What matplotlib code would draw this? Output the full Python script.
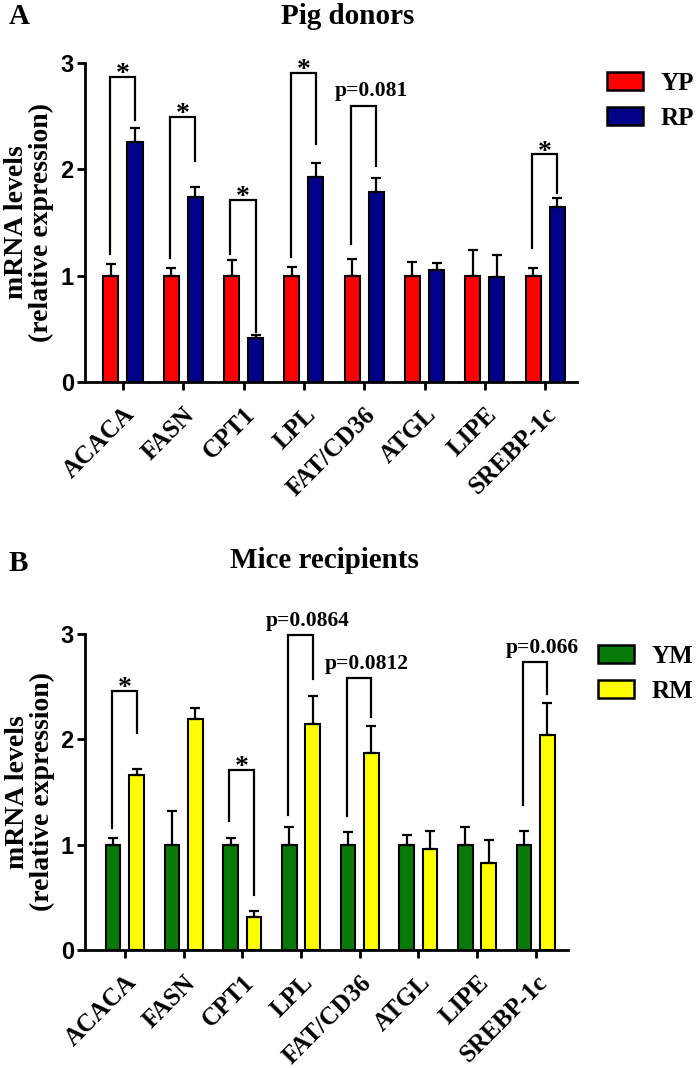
import matplotlib
matplotlib.use("Agg")
import matplotlib.pyplot as plt
from matplotlib.patches import Patch
import numpy as np

SERIF = "Liberation Serif"
SANS = "Liberation Sans"

genes = ["ACACA", "FASN", "CPT1", "LPL", "FAT/CD36", "ATGL", "LIPE", "SREBP-1c"]

# Panel A - pig donors
yp_mean = [1, 1, 1, 1, 1, 1, 1, 1]
yp_err = [0.11, 0.07, 0.15, 0.08, 0.16, 0.13, 0.24, 0.07]
rp_mean = [2.26, 1.74, 0.41, 1.93, 1.79, 1.05, 0.99, 1.65]
rp_err = [0.13, 0.09, 0.03, 0.13, 0.13, 0.07, 0.20, 0.08]
# brackets: gene index, top, left leg bottom, right leg bottom, label
br_a_idx = [0, 1, 2, 3, 4, 7]
br_a_top = [2.87, 2.49, 1.71, 2.91, 2.60, 2.14]
br_a_left = [1.20, 1.17, 1.20, 1.18, 1.30, 1.26]
br_a_right = [2.46, 2.08, 0.47, 2.24, 2.03, 1.78]
br_a_lab = ["*", "*", "*", "*", "p=0.081", "*"]

# Panel B - mice recipients
ym_mean = [1, 1, 1, 1, 1, 1, 1, 1]
ym_err = [0.06, 0.32, 0.06, 0.17, 0.12, 0.09, 0.17, 0.13]
rm_mean = [1.66, 2.19, 0.31, 2.15, 1.87, 0.96, 0.83, 2.04]
rm_err = [0.06, 0.11, 0.06, 0.26, 0.26, 0.17, 0.21, 0.30]
br_b_idx = [0, 2, 3, 4, 7]
br_b_top = [2.46, 1.71, 2.99, 2.58, 2.73]
br_b_left = [1.16, 1.22, 1.28, 1.27, 1.38]
br_b_right = [2.06, 0.52, 2.57, 2.21, 2.43]
br_b_lab = ["*", "*", "p=0.0864", "p=0.0812", "p=0.066"]

W, OFF = 0.25, 0.2

fig = plt.figure(figsize=(7.0, 10.68), dpi=100)


def panel(rect, xlim, m1, e1, m2, e2, c1, c2, names, bidx, btop, bl, br, blab):
    ax = fig.add_axes(rect)
    x = np.arange(len(genes))
    ekw = dict(lw=1.6, capsize=3.5, capthick=1.6, ecolor="black")
    ax.bar(x - OFF, m1, W, color=c1, edgecolor="black", lw=1.5, zorder=2,
           yerr=[np.zeros(len(e1)), e1], error_kw=ekw, label=names[0])
    ax.bar(x + OFF, m2, W, color=c2, edgecolor="black", lw=1.5, zorder=2,
           yerr=[np.zeros(len(e2)), e2], error_kw=ekw, label=names[1])
    for i, t, l, r, lab in zip(bidx, btop, bl, br, blab):
        xl, xr = i - OFF - 0.02, i + OFF
        ax.plot([xl, xl, xr, xr], [l, t, t, r], color="black", lw=1.6,
                solid_joinstyle="miter", clip_on=False, zorder=3)
        if lab == "*":
            ax.text((xl + xr) / 2, t - 0.04, lab, ha="center", va="baseline",
                    fontsize=20, fontweight="bold", family=SERIF)
        else:
            ax.text((xl + xr) / 2 + 0.13, t + 0.04, lab, ha="center",
                    va="bottom", fontsize=15.5, fontweight="bold", family=SERIF)
    ax.set_xlim(*xlim)
    ax.set_ylim(0, 3)
    ax.set_yticks([0, 1, 2, 3])
    ax.set_yticklabels(["0", "1", "2", "3"], family=SANS, fontweight="bold",
                       fontsize=17)
    ax.set_xticks(x)
    ax.set_xticklabels(genes, rotation=45, ha="right", va="top",
                       rotation_mode="anchor", family=SERIF,
                       fontweight="bold", fontsize=18)
    for s in ["top", "right"]:
        ax.spines[s].set_visible(False)
    for s in ["left", "bottom"]:
        ax.spines[s].set_linewidth(2)
    ax.tick_params(axis="both", direction="out", length=6, width=2, pad=2)
    ax.tick_params(axis="x", pad=9)
    ax.set_ylabel("mRNA levels\n(relative expression)", family=SERIF,
                  fontweight="bold", fontsize=20, linespacing=1.0)
    ax.yaxis.set_label_coords(-0.062, 0.5)
    return ax


ax_a = panel([0.1214, 0.6423, 0.703, 0.2987], (-0.63, 7.53),
             yp_mean, yp_err, rp_mean, rp_err, "#FF0000", "#000088",
             ["YP", "RP"], br_a_idx, br_a_top, br_a_left, br_a_right, br_a_lab)
ax_b = panel([0.1214, 0.1105, 0.69, 0.2959], (-0.68, 7.55),
             ym_mean, ym_err, rm_mean, rm_err, "#087A08", "#FFFF00",
             ["YM", "RM"], br_b_idx, br_b_top, br_b_left, br_b_right, br_b_lab)

lkw = dict(loc="upper left", frameon=False, borderpad=0, borderaxespad=0,
           handlelength=1.45, handleheight=0.72, handletextpad=0.7,
           labelspacing=0.5, prop=dict(family=SERIF, weight="bold", size=18))
fig.legend(handles=[Patch(fc="#FF0000", ec="black", lw=1.8, label="YP"),
                    Patch(fc="#000088", ec="black", lw=1.8, label="RP")],
           bbox_to_anchor=(0.867, 0.933), **lkw)
fig.legend(handles=[Patch(fc="#087A08", ec="black", lw=1.8, label="YM"),
                    Patch(fc="#FFFF00", ec="black", lw=1.8, label="RM")],
           bbox_to_anchor=(0.854, 0.3965), **lkw)

fig.text(0.497, 0.985, "Pig donors", ha="center", va="center", family=SERIF,
         fontweight="bold", fontsize=21)
fig.text(0.012, 0.985, "A", ha="left", va="center", family=SERIF,
         fontweight="bold", fontsize=21)
fig.text(0.463, 0.475, "Mice recipients", ha="center", va="center", family=SERIF,
         fontweight="bold", fontsize=21)
fig.text(0.012, 0.472, "B", ha="left", va="center", family=SERIF,
         fontweight="bold", fontsize=21)

fig.savefig("out.png", dpi=100)
